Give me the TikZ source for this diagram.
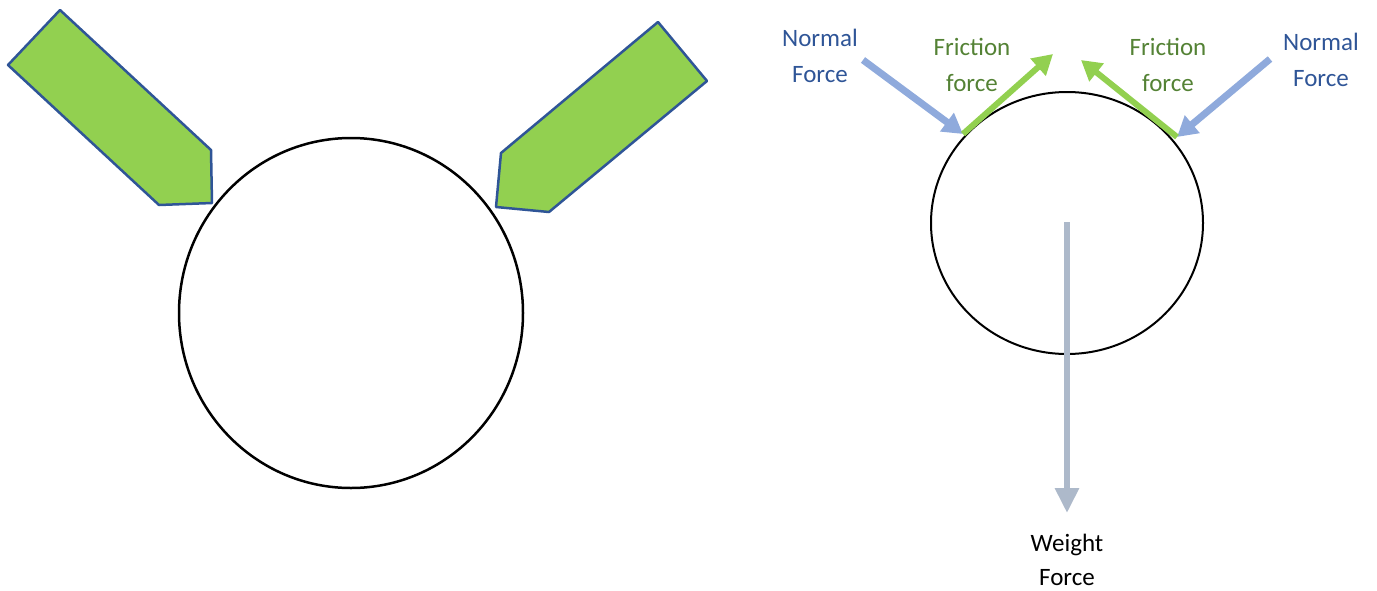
\documentclass[tikz,border=0pt]{standalone}
\usepackage{fontspec}
\setmainfont{Carlito}
\usetikzlibrary{arrows.meta,positioning}
\definecolor{padgreen}{HTML}{92D050}
\definecolor{padblue}{HTML}{2F5597}
\definecolor{normalblue}{HTML}{8FAADC}
\definecolor{frictext}{HTML}{548235}
\definecolor{weightgray}{HTML}{ADB9CA}

\begin{document}
\begin{tikzpicture}[x=1pt,y=-1pt,
  pad/.style={fill=padgreen, draw=padblue, line width=2.5pt, line join=round},
  force/.style={line width=7pt, -{Triangle[length=20pt,width=22pt]}},
  lbl/.style={font=\fontsize{25}{36}\selectfont, align=center, inner sep=0pt}]
\useasboundingbox (0,0) rectangle (1377,590);
% Left: ball held between two pads
\draw[line width=2.5pt] (351,313) ellipse (172 and 175);
\draw[pad] (60,10) -- (211,150) -- (212,203) -- (159,205) -- (8,65) -- cycle;
\draw[pad] (658,22) -- (707,81) -- (549,212) -- (496,207) -- (501,153) -- cycle;
% Right: free body diagram
\draw[line width=2pt] (1067,223) ellipse (136 and 131);
\coordinate (nlA) at (863,60);
\coordinate (cl) at (963,134);
\coordinate (flB) at (1053,54);
\coordinate (nrA) at (1270,59);
\coordinate (cr) at (1177,137);
\coordinate (frB) at (1081,60);
\coordinate (wA) at (1067,222);
\coordinate (wB) at (1067,513);
\draw[force, normalblue] (nlA) -- (cl);
\draw[force, normalblue] (nrA) -- (cr);
\draw[force, padgreen, line width=6pt] (cl) -- (flB);
\draw[force, padgreen, line width=6pt] (cr) -- (frB);
\draw[force, weightgray, line width=6pt, -{Triangle[length=25pt,width=23pt]}] (wA) -- (wB);
% Labels
\node[lbl, text=padblue] (nlL) at (820,56) {Normal\\Force};
\node[lbl, text=frictext] (flL) at (972,65) {Friction\\force};
\node[lbl, text=frictext] (frL) at (1168,65) {Friction\\force};
\node[lbl, text=padblue] (nrL) at (1321,60) {Normal\\Force};
\node[lbl, text=black, font=\fontsize{25}{34}\selectfont] (wL) at (1067,560) {Weight\\Force};
\end{tikzpicture}
\end{document}
